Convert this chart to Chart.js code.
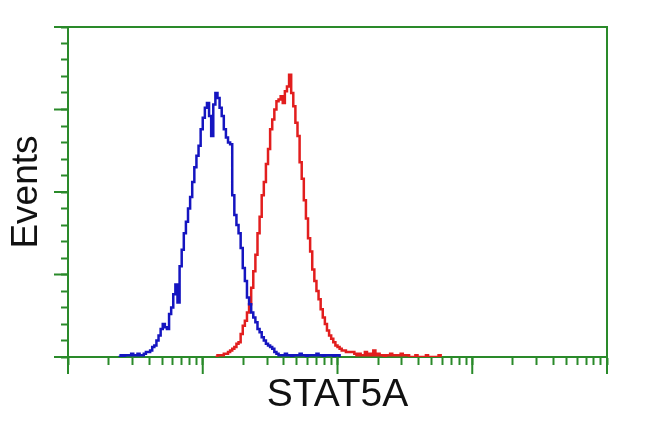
<!DOCTYPE html>
<html>
<head>
<meta charset="utf-8">
<script src="https://cdn.jsdelivr.net/npm/chart.js@4"></script>
<style>
  html, body { margin: 0; padding: 0; background: #fff; }
  #wrap { width: 650px; height: 432px; }
</style>
</head>
<body>
<div id="wrap"><canvas id="hist"></canvas></div>
<script>
// histogram counts per channel (64 channels per decade)
const blueStart = 24;
const blueCounts = [0, 1, 0, 1, 1, 1, 2, 1, 1, 2, 1, 1, 2, 3, 3, 4, 6, 7, 10, 13,
  17, 20, 18, 17, 26, 30, 38, 44, 33, 55, 65, 75, 82, 90, 97, 106, 115, 122, 128, 138,
  145, 151, 154, 146, 134, 153, 160, 157, 151, 146, 138, 133, 130, 129, 98, 86, 80, 75, 66, 54,
  46, 36, 32, 27, 24, 21, 17, 15, 12, 10, 8, 7, 6, 5, 3, 2, 1, 1, 1, 2,
  1, 1, 0, 1, 1, 1, 2, 1, 1, 0, 1, 1, 1, 1, 2, 1, 1, 0, 1, 1,
  1, 1, 0, 1, 1, 0];

const redStart = 70;
const redCounts = [0, 1, 1, 1, 2, 2, 3, 4, 5, 6, 8, 9, 14, 19, 22, 27, 32, 42, 52, 62,
  75, 85, 98, 106, 117, 126, 138, 144, 150, 155, 156, 158, 154, 161, 164, 171, 160, 152, 142, 134,
  118, 108, 95, 84, 72, 64, 53, 46, 40, 35, 29, 24, 20, 16, 13, 11, 9, 7, 6, 5,
  4, 4, 3, 3, 3, 3, 2, 1, 2, 1, 1, 3, 1, 2, 1, 4, 1, 2, 1, 1,
  0, 1, 1, 2, 1, 1, 1, 1, 2, 1, 1, 1, 0, 0, 0, 1, 0, 0, 0, 0,
  1, 0, 0, 0, 0, 0, 1, 0];

const xMajor = [1, 10, 100, 1000, 10000];
const yMajor = [0, 50, 100, 150, 200];
const xTitle = 'STAT5A';
const yTitle = 'Events';

const green = '#2a8a2a';

function toPoints(start, counts) {
  return counts.map((v, i) => ({ x: Math.pow(10, (start + i) / 64), y: v }));
}

const xTicks = [];
for (let d = 0; d < 4; d++) {
  for (let k = 1; k < 10; k++) xTicks.push(k * Math.pow(10, d));
}
xTicks.push(10000);
const yTicks = [];
for (let v = 0; v <= 200; v += 10) yTicks.push(v);

// frame on top/right plus the long major ticks
const framePlugin = {
  id: 'frame',
  afterDraw(chart) {
    const { ctx, chartArea: a, scales } = chart;
    ctx.save();
    ctx.strokeStyle = green;
    ctx.lineWidth = 2;
    ctx.beginPath();
    ctx.moveTo(a.left, a.top);
    ctx.lineTo(a.right, a.top);
    ctx.lineTo(a.right, a.bottom);
    xMajor.forEach(v => {
      const px = scales.x.getPixelForValue(v);
      ctx.moveTo(px, a.bottom);
      ctx.lineTo(px, a.bottom + 17);
    });
    yMajor.forEach(v => {
      const py = scales.y.getPixelForValue(v);
      ctx.moveTo(a.left, py);
      ctx.lineTo(a.left - 14, py);
    });
    ctx.stroke();
    ctx.restore();
  }
};

new Chart(document.getElementById('hist'), {
  type: 'line',
  data: {
    datasets: [
      {
        data: toPoints(blueStart, blueCounts),
        borderColor: '#1515c0',
        borderWidth: 2.5,
        pointRadius: 0,
        stepped: true,
        fill: false
      },
      {
        data: toPoints(redStart, redCounts),
        borderColor: '#e21e1e',
        borderWidth: 2.5,
        pointRadius: 0,
        stepped: true,
        fill: false
      }
    ]
  },
  options: {
    responsive: true,
    maintainAspectRatio: false,
    animation: false,
    layout: { padding: { top: 27, right: 43 } },
    plugins: { legend: { display: false }, tooltip: { enabled: false } },
    scales: {
      x: {
        type: 'logarithmic',
        min: 1,
        max: 10000,
        afterBuildTicks: s => { s.ticks = xTicks.map(v => ({ value: v })); },
        afterFit: s => { s.height = 75; },
        grid: { drawOnChartArea: false, tickLength: 8, tickColor: green, tickWidth: 2 },
        border: { color: green, width: 2 },
        ticks: { display: false },
        title: {
          display: true, text: xTitle, color: '#111',
          font: { family: 'Liberation Sans, Arial, sans-serif', size: 39 },
          padding: { top: 0, bottom: 13 }
        }
      },
      y: {
        min: 0,
        max: 200,
        afterBuildTicks: s => { s.ticks = yTicks.map(v => ({ value: v })); },
        afterFit: s => { s.width = 68; },
        grid: { drawOnChartArea: false, tickLength: 7, tickColor: green, tickWidth: 2 },
        border: { color: green, width: 2 },
        ticks: { display: false },
        title: {
          display: true, text: yTitle, color: '#111',
          font: { family: 'Liberation Sans, Arial, sans-serif', size: 37 },
          padding: { top: 5, bottom: 0 }
        }
      }
    }
  },
  plugins: [framePlugin]
});
</script>
</body>
</html>
